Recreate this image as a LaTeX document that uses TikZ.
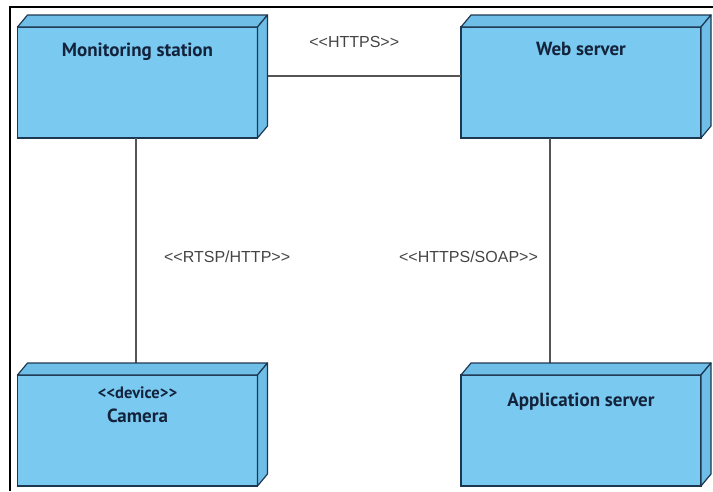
\documentclass[tikz,border=0pt]{standalone}
\usepackage{fontspec}
\newfontfamily\boxfont{PT Sans}
\newfontfamily\labelfont{Liberation Sans}
\usetikzlibrary{positioning}

\definecolor{boxfill}{RGB}{122,201,240}
\definecolor{boxtop}{RGB}{110,190,232}
\definecolor{boxline}{RGB}{30,55,80}
\definecolor{boxtext}{RGB}{20,35,60}
\definecolor{linkgray}{RGB}{85,85,85}

\tikzset{
  nodebox/.style={draw=boxline, fill=boxfill, line width=1.2pt,
    minimum width=240pt, minimum height=111pt, inner sep=0pt, outer sep=0pt},
  nodename/.style={anchor=north, yshift=-12pt, text=boxtext, align=center,
    font=\boxfont\bfseries\fontsize{19}{21}\selectfont},
  face/.style={draw=boxline, fill=boxtop, line width=1.2pt, line join=round},
  link/.style={draw=linkgray, line width=1.6pt},
  linklabel/.style={text=linkgray!80!black, font=\labelfont\fontsize{16}{18}\selectfont}
}

\begin{document}
\begin{tikzpicture}[x=1pt, y=-1pt]
\useasboundingbox (0,0) rectangle (713,491);

% frame
\draw [line width=1.8pt] (10,491) -- (10,7) -- (713,7);

% nodes
\node [nodebox, label={[nodename]north:Monitoring station}] (ms)  at (137.5,82.5) {};
\node [nodebox, label={[nodename]north:Web server}]         (web) at (581,82.5)   {};
\node [nodebox, label={[nodename, yshift=4pt]north:{{\fontsize{16.5}{18}\selectfont <<device>>}\\[3pt]Camera}}] (cam) at (137.5,430.5) {};
\node [nodebox, label={[nodename, yshift=-2pt]north:Application server}] (app) at (581,430.5)  {};

% links
\draw [link] ([yshift=6.5pt]ms.east) -- node [linklabel, above=24pt, xshift=-5pt] {<<HTTPS>>} ([yshift=6.5pt]web.west);
\draw [link] ([xshift=-1.5pt]ms.south) -- node [linklabel, right=24pt] {<<RTSP/HTTP>>} ([xshift=-1.5pt]cam.north);
\draw [link] ([xshift=-31pt]web.south) -- node [linklabel, left=8pt] {<<HTTPS/SOAP>>} ([xshift=-31pt]app.north);

% top and side faces
\foreach \n in {ms,web,cam,app}
{
  \draw [face] (\n.north west) -- ++(10,-12) -- ([shift={(10,-12)}]\n.north east) -- (\n.north east) -- cycle;
  \draw [face] (\n.north east) -- ++(10,-12) -- ([shift={(10,-12)}]\n.south east) -- (\n.south east) -- cycle;
}
\end{tikzpicture}
\end{document}
